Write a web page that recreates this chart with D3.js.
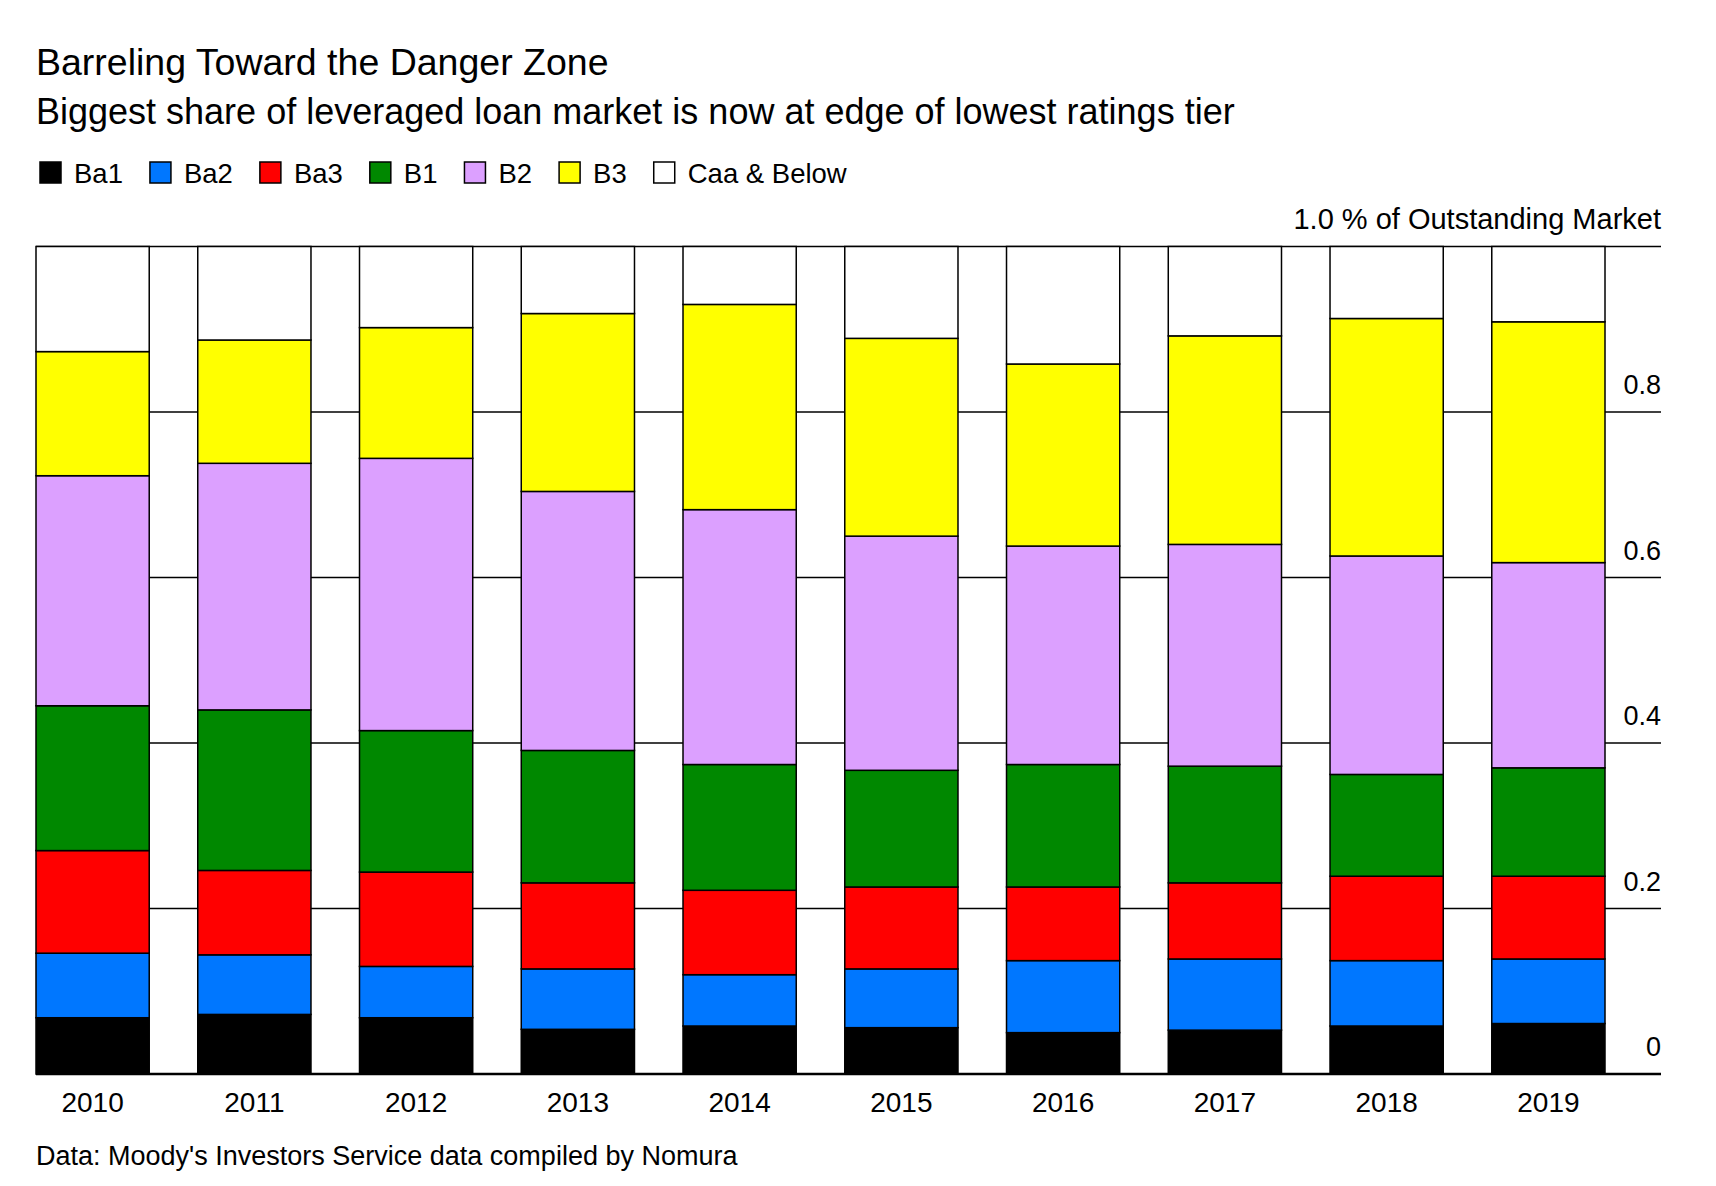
<!DOCTYPE html>
<html>
<head>
<meta charset="utf-8">
<script src="https://d3js.org/d3.v7.min.js"></script>
<style>
  body { margin: 0; background: #fff; }
  text { font-family: "Liberation Sans", Arial, sans-serif; fill: #000; }
  .title { font-size: 37.5px; }
  .subtitle { font-size: 36px; }
  .legend-label { font-size: 27.5px; }
  .tick-label { font-size: 27px; }
  .tick-label.unit { font-size: 29px; }
  .year { font-size: 28px; }
  .source { font-size: 27px; }
</style>
</head>
<body>
<script>
// data (share of outstanding market)
var years = ["2010","2011","2012","2013","2014","2015","2016","2017","2018","2019"];
var ratings = ["Ba1","Ba2","Ba3","B1","B2","B3","Caa & Below"];
var colors = ["#000000","#0077ff","#ff0000","#008800","#dca0ff","#ffff00","#ffffff"];

var ba1 = [0.068,0.072,0.068,0.054,0.058,0.056,0.050,0.053,0.058,0.061];
var ba2 = [0.078,0.072,0.062,0.073,0.062,0.071,0.087,0.086,0.079,0.078];
var ba3 = [0.124,0.102,0.114,0.104,0.102,0.099,0.089,0.092,0.102,0.100];
var b1  = [0.175,0.194,0.171,0.160,0.152,0.141,0.148,0.141,0.123,0.131];
var b2  = [0.278,0.298,0.329,0.313,0.308,0.283,0.264,0.268,0.264,0.248];
var b3  = [0.150,0.149,0.158,0.215,0.248,0.239,0.220,0.252,0.287,0.291];
var caa = [0.127,0.113,0.098,0.081,0.070,0.111,0.142,0.108,0.087,0.091];

var yTicks = [0, 0.2, 0.4, 0.6, 0.8, 1.0];
var yTickLabels = ["0","0.2","0.4","0.6","0.8","1.0 % of Outstanding Market"];

var series = [ba1, ba2, ba3, b1, b2, b3, caa];

var width = 1716, height = 1186;
var plotLeft = 36, axisRight = 1661, barsRight = 1605;
var plotTop = 246.5, plotBottom = 1074;

var svg = d3.select("body").append("svg")
    .attr("width", width).attr("height", height);

// headings
svg.append("text").classed("title", true).attr("x", 36).attr("y", 75)
   .text("Barreling Toward the Danger Zone");
svg.append("text").classed("subtitle", true).attr("x", 36).attr("y", 124)
   .text("Biggest share of leveraged loan market is now at edge of lowest ratings tier");

// legend
var lx = 40;
ratings.forEach(function(r, i) {
  var g = svg.append("g").attr("transform", "translate(" + lx + ",0)");
  g.append("rect").attr("x", 0).attr("y", 162).attr("width", 21).attr("height", 21)
   .attr("fill", colors[i]).attr("stroke", "#000").attr("stroke-width", 1.5);
  var t = g.append("text").classed("legend-label", true).attr("x", 34).attr("y", 183).text(r);
  lx += 34 + t.node().getComputedTextLength() + 27;
});

// table for the stack
var table = years.map(function(y, i) {
  var row = { year: y };
  ratings.forEach(function(r, j) { row[r] = series[j][i]; });
  return row;
});
var stacked = d3.stack().keys(ratings)(table);

var x = d3.scaleBand().domain(years).range([plotLeft, barsRight]).paddingInner(0.3).paddingOuter(0);
var y = d3.scaleLinear().domain([0, 1]).range([plotBottom, plotTop]);

// gridlines behind the bars
svg.append("g").selectAll("line").data(yTicks).enter().append("line")
   .attr("x1", plotLeft).attr("x2", axisRight)
   .attr("y1", function(d) { return y(d); }).attr("y2", function(d) { return y(d); })
   .attr("stroke", "#000").attr("stroke-width", 1.5);

// bars
var layers = svg.append("g").selectAll("g").data(stacked).enter().append("g")
   .attr("fill", function(d, i) { return colors[i]; });
layers.selectAll("rect").data(function(d) { return d; }).enter().append("rect")
   .attr("x", function(d) { return x(d.data.year); })
   .attr("width", x.bandwidth())
   .attr("y", function(d) { return y(d[1]); })
   .attr("height", function(d) { return y(d[0]) - y(d[1]); })
   .attr("stroke", "#000").attr("stroke-width", 1.5);

// baseline on top
svg.append("line").attr("x1", plotLeft).attr("x2", axisRight)
   .attr("y1", y(0)).attr("y2", y(0)).attr("stroke", "#000").attr("stroke-width", 2.5);

// tick labels sitting above the gridlines, right aligned
svg.append("g").selectAll("text").data(yTicks).enter().append("text")
   .attr("class", function(d) { return d === 1 ? "tick-label unit" : "tick-label"; })
   .attr("x", axisRight)
   .attr("y", function(d) { return y(d) - 18; })
   .attr("text-anchor", "end")
   .text(function(d, i) { return yTickLabels[i]; });

// years
svg.append("g").selectAll("text").data(years).enter().append("text")
   .classed("year", true)
   .attr("x", function(d) { return x(d) + x.bandwidth() / 2; })
   .attr("y", 1112)
   .attr("text-anchor", "middle")
   .text(function(d) { return d; });

svg.append("text").classed("source", true).attr("x", 36).attr("y", 1165)
   .text("Data: Moody's Investors Service data compiled by Nomura");
</script>
</body>
</html>
